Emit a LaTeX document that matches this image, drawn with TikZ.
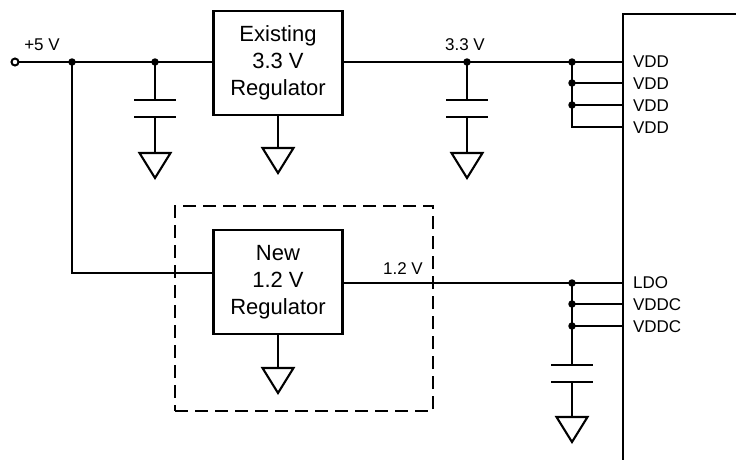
\documentclass[tikz,border=0pt]{standalone}
\usepackage{fontspec}
\setmainfont{Liberation Sans}
\begin{document}
\begin{tikzpicture}[x=1pt,y=-1pt,line width=2.1pt,
  box/.style={draw,minimum width=129pt,minimum height=104pt,inner sep=0pt,align=center,font=\fontsize{22}{27}\selectfont},
  lbl/.style={font=\fontsize{17}{20}\selectfont,inner sep=0pt},
  pinlbl/.style={lbl,anchor=west},
  jdot/.style={circle,fill,inner sep=0pt,minimum size=7.5pt},
  term/.style={circle,draw,fill=white,inner sep=0pt,minimum size=7pt,line width=2pt},
  frame/.style={draw,dash pattern=on 13pt off 7pt,inner sep=0pt,minimum width=258pt,minimum height=205pt},
  gnd/.pic={\draw[line join=miter] (-15.5,0) -- (15.5,0) -- (0,25) -- cycle;},
  plate/.style={line cap=butt}
]
\useasboundingbox (0,0) rectangle (736,459);
% boxes
\node[box] (reg33) at (278,63) {Existing\\3.3 V\\Regulator};
\node[box] (reg12) at (278,282) {New\\1.2 V\\Regulator};
\node[frame] (fr) at (304,308.5) {};
% coordinates
\coordinate (in) at (15,62);
\coordinate (j1) at (72,62);
\coordinate (j2) at (155,62);
\coordinate (j3) at (467,62);
\coordinate (j4) at (572,62);
\coordinate (j5) at (572,83);
\coordinate (j6) at (572,105);
\coordinate (c7) at (572,127);
\coordinate (k1) at (572,283);
\coordinate (k2) at (572,304);
\coordinate (k3) at (572,326);
\coordinate (chipTop) at (623,14);
\coordinate (chipBot) at (623,462);
\coordinate (chipRight) at (740,14);
% chip
\draw (chipBot) -- (chipTop) -- (chipRight);
% input and 3.3 V rail
\draw (in) -- (reg33.west |- in);
\draw (reg33.east |- in) -- (in -| chipTop);
\draw (j1) |- (reg12.west |- 0,273);
\draw (reg12.east |- k1) -- (k1 -| chipTop);
% VDD bus
\draw (j4) -- (c7) -- (c7 -| chipTop);
\draw (j5) -- (j5 -| chipTop);
\draw (j6) -- (j6 -| chipTop);
% LDO / VDDC bus
\draw (k1) -- (572,365);
\draw (k2) -- (k2 -| chipTop);
\draw (k3) -- (k3 -| chipTop);
% cap 1
\draw (j2) -- (155,100);
\draw[plate] (134,100) -- (176,100) (134,117) -- (176,117);
\draw (155,117) -- (155,153);
\pic at (155,153) {gnd};
% cap 2
\draw (j3) -- (467,100);
\draw[plate] (446,100) -- (488,100) (446,117) -- (488,117);
\draw (467,117) -- (467,153);
\pic at (467,153) {gnd};
% cap 3
\draw[plate] (551,365) -- (593,365) (551,382) -- (593,382);
\draw (572,382) -- (572,417);
\pic at (572,417) {gnd};
% regulator grounds
\draw (reg33.south) -- (278,148);
\pic at (278,148) {gnd};
\draw (reg12.south) -- (278,368);
\pic at (278,368) {gnd};
% dots
\foreach \p in {j1,j2,j3,j4,j5,j6,k1,k2,k3} \node[jdot] at (\p) {};
\node[term] (t) at (in) {};
% labels
\node[lbl] (l5) at (42,45) {+5 V};
\node[lbl] (l33) at (465,45) {3.3 V};
\node[lbl] (l12) at (403,269) {1.2 V};
\node[pinlbl] at (632,62) {VDD};
\node[pinlbl] at (632,84) {VDD};
\node[pinlbl] at (632,106) {VDD};
\node[pinlbl] at (632,128) {VDD};
\node[pinlbl] at (632,283) {LDO};
\node[pinlbl] at (632,305) {VDDC};
\node[pinlbl] at (632,327) {VDDC};
\end{tikzpicture}
\end{document}
